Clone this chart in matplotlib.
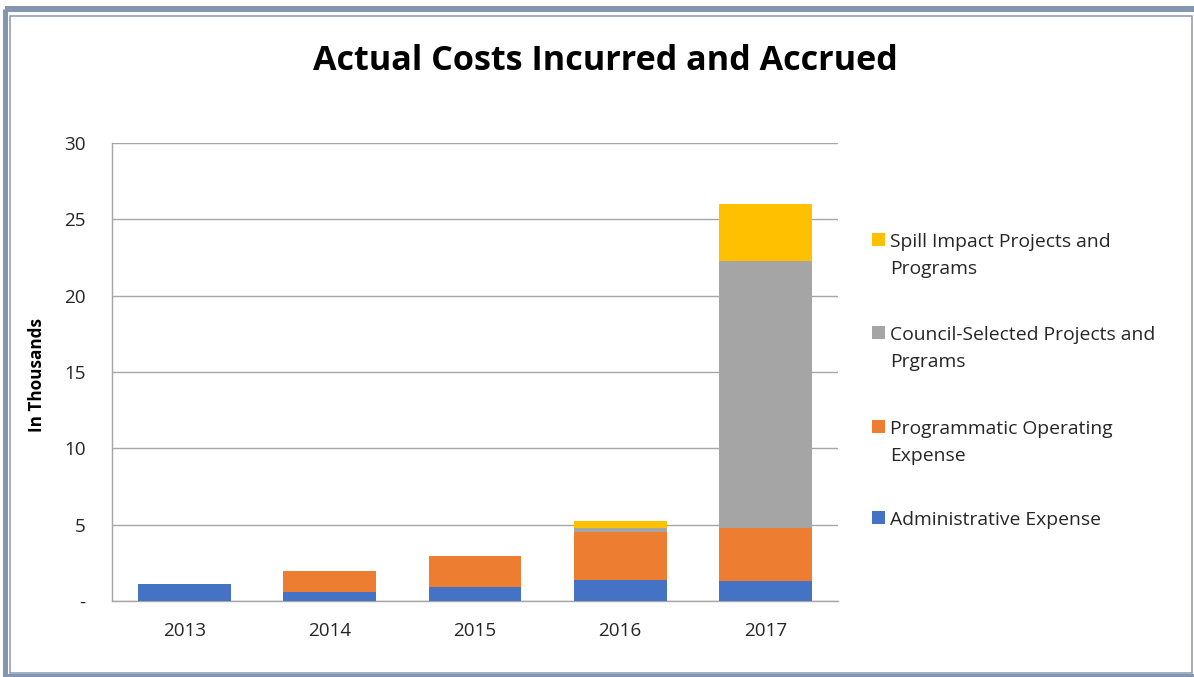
import matplotlib
matplotlib.use("Agg")
import matplotlib.pyplot as plt
from matplotlib.patches import Rectangle
from matplotlib.lines import Line2D
import numpy as np

plt.rcParams['font.family'] = ['Open Sans', 'DejaVu Sans']

years = ["2013", "2014", "2015", "2016", "2017"]
admin = [1.10, 0.60, 0.89, 1.40, 1.33]
programmatic = [0.0, 1.37, 2.04, 3.09, 3.44]
council = [0.0, 0.0, 0.0, 0.28, 17.49]
spill = [0.0, 0.0, 0.0, 0.45, 3.72]

series_labels = [
    ["Administrative Expense"],
    ["Programmatic Operating", "Expense"],
    ["Council-Selected Projects and", "Prgrams"],
    ["Spill Impact Projects and", "Programs"],
]
series_values = [admin, programmatic, council, spill]
series_colors = ["#4472C4", "#ED7D31", "#A5A5A5", "#FFC000"]
yticks = [0, 5, 10, 15, 20, 25, 30]
yticklabels = ["-", "5", "10", "15", "20", "25", "30"]

W, H = 1194, 677
fig = plt.figure(figsize=(W / 100, H / 100), dpi=100)
fig.patch.set_facecolor("white")
PX = 72 / 100  # points per pixel


def fx(px):
    return px / W


def fy(py):
    return (H - py) / H


frame_col = "#8496B0"
# thick outer band
for xs, ys, lw in [
    ([4.5, 4.5], [9, 677], 5),          # left
    ([4.5, W + 5], [8.5, 8.5], 6),      # top
    ([4.5, W + 5], [675.5, 675.5], 4),  # bottom
]:
    fig.add_artist(Line2D([fx(v) for v in xs], [fy(v) for v in ys], transform=fig.transFigure,
                          color=frame_col, linewidth=lw * PX, solid_capstyle="butt"))
# thin inner line
fig.add_artist(Rectangle((fx(9.5), fy(672.5)), fx(1192) - fx(9.5), fy(15.5) - fy(672.5),
                         transform=fig.transFigure, fill=False, edgecolor=frame_col,
                         linewidth=1.5 * PX))

ax = fig.add_axes([fx(112), fy(601), fx(838) - fx(112), fy(143) - fy(601)])
x = np.arange(len(years))
bottom = np.zeros(len(years))
for vals, col in zip(series_values, series_colors):
    v = np.array(vals)
    ax.bar(x, v, width=0.64, bottom=bottom, color=col, zorder=3)
    bottom += v

ax.set_xlim(-0.5, len(years) - 0.5)
ax.set_ylim(0, 30)
ax.set_yticks(yticks)
ax.set_yticklabels(yticklabels)
ax.set_xticks(x)
ax.set_xticklabels(years)
ax.tick_params(axis="both", length=0, labelsize=13.6, colors="#262626")
ax.tick_params(axis="x", pad=15)
ax.tick_params(axis="y", pad=19)
ax.grid(axis="y", color="#A6A6A6", linewidth=1, zorder=0)
for s in ["top", "right"]:
    ax.spines[s].set_visible(False)
for s in ["left", "bottom"]:
    ax.spines[s].set_color("#A6A6A6")
    ax.spines[s].set_linewidth(1)

fig.text(fx(37), fy(375), "In Thousands", rotation=90, ha="center", va="center",
         fontsize=12.3, fontweight="bold", color="black")

fig.text(fx(605), fy(70), "Actual Costs Incurred and Accrued", ha="center", va="baseline",
         fontsize=24.6, fontweight="bold", color="black")

# legend (top entry = last series)
entry_baselines = [525, 434, 340, 246.7]
line_gap = 27
for lines, col, base in zip(series_labels, series_colors, entry_baselines):
    fig.add_artist(Rectangle((fx(872), fy(base - 1)), 13 / W, 13 / H, transform=fig.transFigure,
                             facecolor=col, edgecolor="none"))
    for i, line in enumerate(lines):
        fig.text(fx(890), fy(base + i * line_gap), line, ha="left", va="baseline",
                 fontsize=13.9, color="#262626")

fig.savefig("out.png", dpi=100)
